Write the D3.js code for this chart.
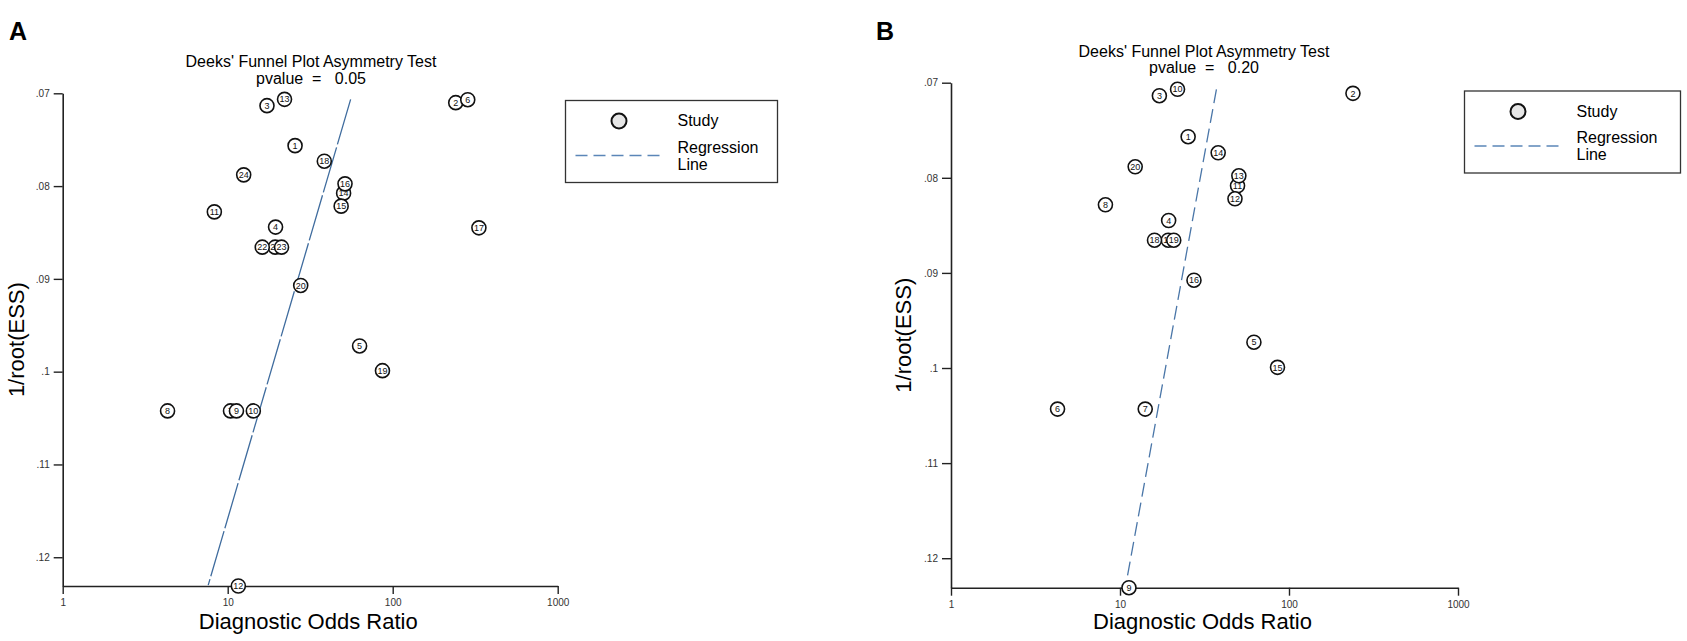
<!DOCTYPE html>
<html>
<head>
<meta charset="utf-8">
<script src="https://cdn.jsdelivr.net/npm/d3@7"></script>
<style>
  body { margin: 0; background: #fff; }
  svg { display: block; font-family: "Liberation Sans", Arial, sans-serif; }
</style>
</head>
<body>
<svg id="chart" width="1687" height="641"></svg>
<script>
// axis ticks (shared by both panels)
const xTicks = [1, 10, 100, 1000]
const yTicks = [0.07, 0.08, 0.09, 0.1, 0.11, 0.12]
const xDomain = [1, 1000]
const yDomain = [0.07, 0.1231]

// panel A: 24 studies, diagnostic odds ratio vs 1/root(ESS)
const studiesA = [1, 2, 3, 4, 5, 6, 7, 8, 9, 10, 11, 12, 13, 14, 15, 16, 17, 18, 19, 20, 21, 22, 23, 24]
const dorA = [25.6, 241, 17.3, 19.5, 63.0, 285, 10.4, 4.32, 11.3, 14.3, 8.3, 11.6,
              22.1, 50.4, 48.7, 51.4, 333, 38.5, 86.7, 27.7, 19.4, 16.2, 21.2, 12.5]
const essA = [0.07564, 0.07101, 0.07133, 0.08442, 0.09723, 0.07069, 0.10423, 0.10423, 0.10423, 0.10423, 0.08278, 0.1231,
              0.07065, 0.08076, 0.08216, 0.07976, 0.0845, 0.07732, 0.09989, 0.09071, 0.08658, 0.08658, 0.08658, 0.07879]
const regEssA = [0.07065, 0.1230]
const regDorA = [55.6, 7.62]
const pvalueA = "0.05"

// panel B: 20 studies
const studiesB = [1, 2, 3, 4, 5, 6, 7, 8, 9, 10, 11, 12, 13, 14, 15, 16, 17, 18, 19, 20]
const dorB = [25.3, 239, 17.1, 19.4, 62.0, 4.27, 14.1, 8.2, 11.3, 21.9,
              49.6, 47.9, 50.5, 38.1, 85.5, 27.4, 19.3, 16.0, 20.8, 12.3]
const essB = [0.07568, 0.07112, 0.07137, 0.08449, 0.09729, 0.10432, 0.10432, 0.08284, 0.1231, 0.07069,
              0.08084, 0.08221, 0.07979, 0.07737, 0.09993, 0.09077, 0.08656, 0.08656, 0.08656, 0.07884]
const regEssB = [0.0707, 0.1231]
const regDorB = [37.2, 10.75]
const pvalueB = "0.20"

const svg = d3.select("#chart")

function drawPanel(p) {
    let g = svg.append("g").attr("class", "panel")

    let x = d3.scaleLog().domain(xDomain).range([p.left, p.right])
    let y = d3.scaleLinear().domain(yDomain).range([p.top, p.bottom])

    // panel letter
    g.append("text")
        .attr("x", p.letterX).attr("y", 40)
        .attr("font-size", 25).attr("font-weight", "bold")
        .text(p.letter)

    // title
    g.append("text")
        .attr("x", p.titleX).attr("y", p.top - 26)
        .attr("text-anchor", "middle").attr("font-size", 16)
        .text("Deeks' Funnel Plot Asymmetry Test")
    g.append("text")
        .attr("x", p.titleX).attr("y", p.top - 9.5)
        .attr("text-anchor", "middle").attr("font-size", 16)
        .style("white-space", "pre")
        .text("pvalue  =   " + p.pvalue)

    // axes
    let yAxis = d3.axisLeft(y)
        .tickValues(yTicks)
        .tickFormat(d => String(d).replace(/^0/, ""))
        .tickSize(9).tickSizeOuter(0).tickPadding(4)
    let gy = g.append("g").attr("transform", "translate(" + p.left + ",0)").call(yAxis)

    let xAxis = d3.axisBottom(x)
        .tickValues(xTicks)
        .tickFormat(d3.format("d"))
        .tickSize(8).tickSizeOuter(0).tickPadding(5)
    let gx = g.append("g").attr("transform", "translate(0," + p.bottom + ")").call(xAxis)

    for (let ax of [gx, gy]) {
        ax.select(".domain").attr("stroke", "#222").attr("stroke-width", 1.6)
        ax.selectAll(".tick line").attr("stroke", "#222").attr("stroke-width", 1.4)
        ax.selectAll(".tick text").attr("fill", "#333").attr("font-size", 10)
            .attr("font-family", "Liberation Sans, Arial, sans-serif")
    }

    // axis titles
    g.append("text")
        .attr("x", (p.left + p.right) / 2 - 2).attr("y", 629)
        .attr("text-anchor", "middle").attr("font-size", 22)
        .text("Diagnostic Odds Ratio")
    g.append("text")
        .attr("transform", "translate(" + p.yLabelX + "," + ((p.top + p.bottom) / 2) + ") rotate(-90)")
        .attr("text-anchor", "middle").attr("font-size", 22)
        .text("1/root(ESS)")

    // regression line
    let reg = p.regEss.map((e, i) => [p.regDor[i], e])
    g.append("path")
        .attr("d", d3.line().x(d => x(d[0])).y(d => y(d[1]))(reg))
        .attr("fill", "none")
        .attr("stroke", p.lineColor)
        .attr("stroke-width", 1.3)
        .attr("stroke-dasharray", p.dash)

    // studies, drawn in order so later ones sit on top
    let pts = g.selectAll(".study")
        .data(p.studies.map((s, i) => ({ s: s, dor: p.dor[i], ess: p.ess[i] })))
        .join("g")
        .attr("class", "study")
        .attr("transform", d => "translate(" + x(d.dor) + "," + y(d.ess) + ")")
    pts.append("circle")
        .attr("r", 7)
        .attr("fill", "#fff")
        .attr("stroke", "#111")
        .attr("stroke-width", 1.6)
    pts.append("text")
        .attr("text-anchor", "middle").attr("dy", "0.35em")
        .attr("font-size", 9).attr("fill", "#111")
        .text(d => d.s)

    // legend
    let lg = g.append("g").attr("transform", "translate(" + p.legX + "," + p.legY + ")")
    lg.append("rect")
        .attr("width", p.legW).attr("height", 82)
        .attr("fill", "#fff").attr("stroke", "#333").attr("stroke-width", 1.3)
    lg.append("circle")
        .attr("cx", 53.5).attr("cy", 20.5).attr("r", 7.5)
        .attr("fill", "#e6e6e6").attr("stroke", "#111").attr("stroke-width", 2)
    lg.append("line")
        .attr("x1", 10).attr("x2", 97).attr("y1", 55).attr("y2", 55)
        .attr("stroke", "#5b86b8").attr("stroke-width", 1.5)
        .attr("stroke-dasharray", "12,6")
    lg.append("text").attr("x", 112).attr("y", 25.5).attr("font-size", 16).text("Study")
    lg.append("text").attr("x", 112).attr("y", 52).attr("font-size", 16).text("Regression")
    lg.append("text").attr("x", 112).attr("y", 69).attr("font-size", 16).text("Line")
}

drawPanel({
    letter: "A", letterX: 9, pvalue: pvalueA,
    left: 62.7, right: 557.7, top: 93.3, bottom: 586,
    titleX: 311, yLabelX: 24,
    studies: studiesA, dor: dorA, ess: essA,
    regEss: regEssA, regDor: regDorA,
    lineColor: "#3f6c9e", dash: "47,3",
    legX: 565.5, legY: 100.5, legW: 212
})

drawPanel({
    letter: "B", letterX: 876, pvalue: pvalueB,
    left: 951, right: 1458, top: 82.7, bottom: 587.7,
    titleX: 1204, yLabelX: 911,
    studies: studiesB, dor: dorB, ess: essB,
    regEss: regEssB, regDor: regDorB,
    lineColor: "#4a76a8", dash: "14,6",
    legX: 1464.5, legY: 91, legW: 216
})
</script>
</body>
</html>
